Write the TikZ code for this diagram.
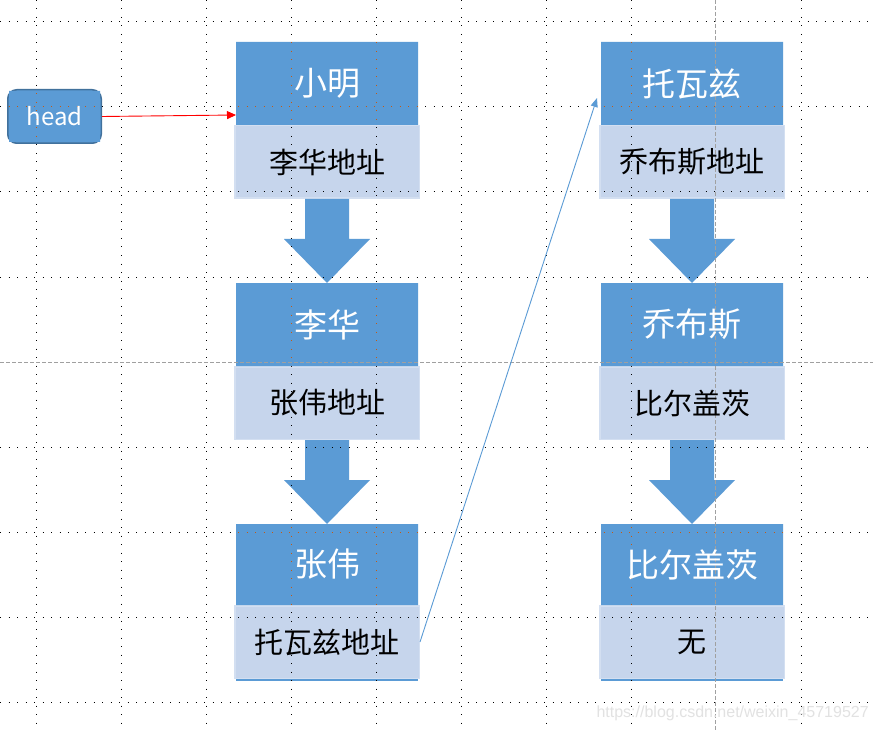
\documentclass[tikz,border=0pt]{standalone}
\usepackage{fontspec}
\setmainfont{Noto Sans CJK SC}
\newfontfamily\wmfont{Liberation Sans}
\usetikzlibrary{arrows.meta,calc}
\definecolor{darkblue}{HTML}{5B9BD5}
\definecolor{lightblue}{HTML}{C6D5EC}
\definecolor{lightedge}{HTML}{D3DFF1}
\definecolor{headedge}{HTML}{41719C}
\definecolor{gridorange}{HTML}{C55A11}
\definecolor{guidegray}{HTML}{A0A0A0}
\definecolor{wmgray}{HTML}{E2E2E2}
\pgfdeclarelayer{bg}
\pgfdeclarelayer{gridlayer}
\pgfsetlayers{bg,gridlayer,main}
\tikzset{
  titlebox/.style={inner sep=0pt, outer sep=0pt, minimum width=182pt, minimum height=83pt,
    text=white, font=\fontsize{33}{33}\selectfont},
  fieldbox/.style={inner sep=0pt, outer sep=0pt, minimum width=186pt, minimum height=74pt,
    text=black, font=\fontsize{29}{29}\selectfont},
  headbox/.style={inner sep=0pt, outer sep=0pt, minimum width=95pt, minimum height=55pt,
    text=white, font=\fontsize{24}{24}\selectfont},
  darkfill/.style={fill=darkblue},
  lightfill/.style={fill=lightblue, draw=lightedge, line width=1.5pt},
  arrowfill/.style={fill=darkblue},
  gridline/.style={line width=1pt, dash pattern=on 1pt off 7.5pt},
  guideline/.style={guidegray, line width=1pt, dash pattern=on 4pt off 2pt},
  redlink/.style={red, line width=0.9pt, -{Triangle[length=9pt,width=8pt]}},
  bluelink/.style={darkblue, line width=0.9pt, -{Triangle[length=9pt,width=7pt]}},
}
\newcommand\blkarrow[2]{%
  \fill[arrowfill] let \p1=(#1.south), \p2=(#2.north) in
    (\x1-22pt,\y1) -- (\x1+22pt,\y1) -- (\x1+22pt,\y2+44pt) -- (\x1+43pt,\y2+44pt)
    -- (\x2,\y2) -- (\x1-43pt,\y2+44pt) -- (\x1-22pt,\y2+44pt) -- cycle;}
\newcommand\gridall[1]{%
  \foreach \gx in {36,121,206,291,376,461,546,631,801}
    \draw[gridline,#1] (\gx,0) -- (\gx,730);
  \foreach \gy in {22,107,192,277,447,532,617,702}
    \draw[gridline,#1] (0,\gy) -- (873,\gy);}
\begin{document}
\begin{tikzpicture}[x=1pt,y=-1pt]
\useasboundingbox (0,0) rectangle (873,730);
% list nodes
\node[titlebox] (t1) at (327,83.5) {小明};
\node[fieldbox] (f1) at (327,162) {李华地址};
\node[titlebox] (t2) at (327,324.5) {李华};
\node[fieldbox] (f2) at (327,403) {张伟地址};
\node[titlebox,minimum height=81pt] (t3) at (327,564.5) {张伟};
\node[fieldbox] (f3) at (327,642) {托瓦兹地址};
\node[titlebox] (t4) at (692,83.5) {托瓦兹};
\node[fieldbox] (f4) at (692,162) {乔布斯地址};
\node[titlebox] (t5) at (692,324.5) {乔布斯};
\node[fieldbox] (f5) at (692,403) {比尔盖茨};
\node[titlebox,minimum height=81pt] (t6) at (692,564.5) {比尔盖茨};
\node[fieldbox] (f6) at (692,642) {无};
\node[headbox] (head) at (54.5,116.5) {head};
\node[anchor=base west, text=wmgray, font=\wmfont\fontsize{16}{16}\selectfont] (wm) at (593,717) {https://blog.csdn.net/weixin\_45719527};
\begin{pgfonlayer}{bg}
  \fill[white] (0,0) rectangle (873,730);
  \foreach \t/\f in {t1/f1,t2/f2,t4/f4,t5/f5}{
    \fill[darkfill] (\t.north west) rectangle (\f.south -| \t.east);
    \draw[lightfill] ($(\f.north west)+(0.75,0.75)$) rectangle ($(\f.south east)+(-0.75,-0.75)$);
  }
  \foreach \t/\f in {t3/f3,t6/f6}{
    \fill[darkfill] (\t.north west) rectangle ($(\f.south -| \t.east)+(0,1.5)$);
    \draw[lightfill] ($(\f.north west)+(0.75,0.75)$) rectangle ($(\f.south east)+(-0.75,-0.75)$);
  }
  \draw[fill=darkblue, draw=headedge, line width=1.5pt, rounded corners=9pt]
    ($(head.north west)+(0.75,0.75)$) rectangle ($(head.south east)+(-0.75,-0.75)$);
  \blkarrow{f1}{t2}
  \blkarrow{f2}{t3}
  \blkarrow{f4}{t5}
  \blkarrow{f5}{t6}
\end{pgfonlayer}
\begin{pgfonlayer}{gridlayer}
  \gridall{black}
  \begin{scope}
    \clip (t1.north west) rectangle (t1.south east)
          (t2.north west) rectangle (t2.south east)
          (t3.north west) rectangle (t3.south east)
          (t4.north west) rectangle (t4.south east)
          (t5.north west) rectangle (t5.south east)
          (t6.north west) rectangle (t6.south east)
          ($(head.north west)+(2,2)$) rectangle ($(head.south east)+(-2,-2)$);
    \fill[darkblue] (0,0) rectangle (873,730);
    \gridall{gridorange}
  \end{scope}
  \draw[guideline] (715,0) -- (715,730);
  \draw[guideline] (0,362) -- (873,362);
\end{pgfonlayer}
% connectors
\coordinate (headin) at ($(t1.west)+(0,31.5)$);
\coordinate (tovalds) at ($(t4.west)+(-4,14.5)$);
\draw[redlink] (head.east) -- (headin);
\draw[bluelink] (f3.east) -- (tovalds);
\end{tikzpicture}
\end{document}
